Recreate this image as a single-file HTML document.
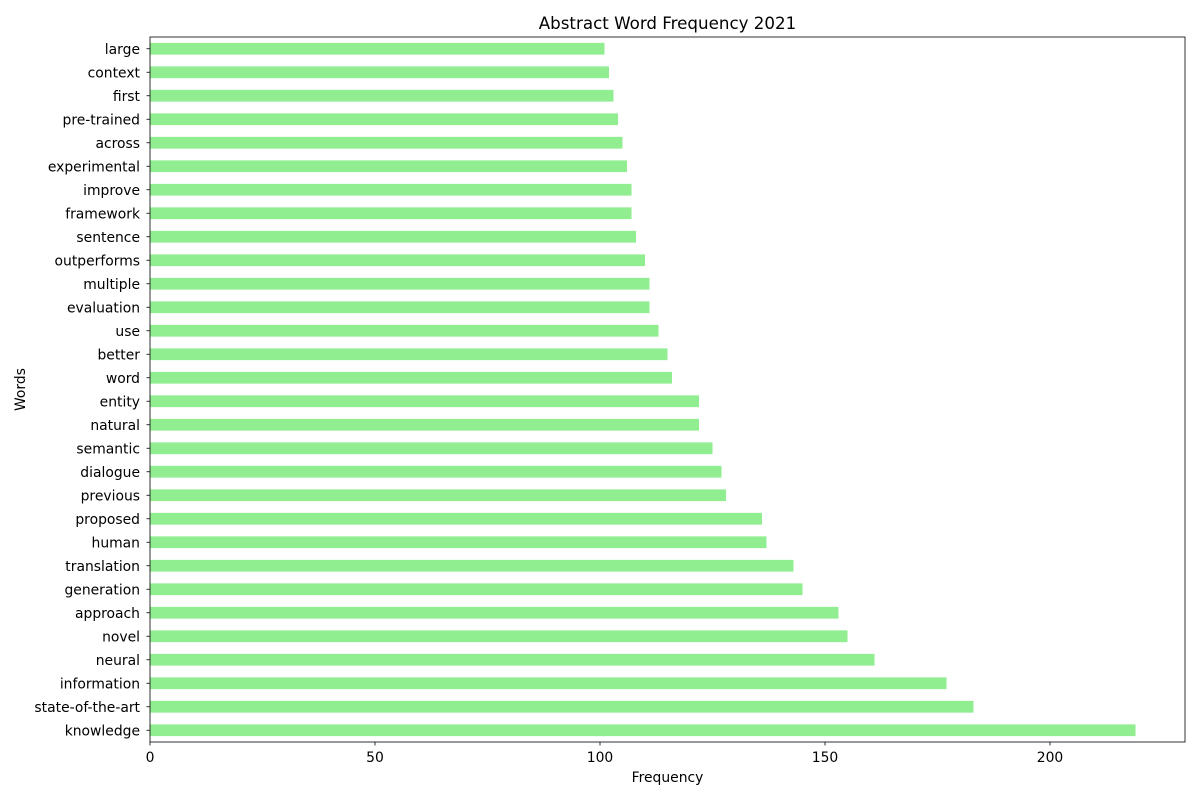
<!DOCTYPE html>
<html><head><meta charset="utf-8"><style>
body{margin:0;background:#fff;font-family:"Liberation Sans","DejaVu Sans",sans-serif;}
svg text{font-family:"DejaVu Sans","Liberation Sans",sans-serif;}
</style></head><body>
<svg id="chart" width="1200" height="800" xmlns="http://www.w3.org/2000/svg"></svg>
<script>
const categories=["knowledge","state-of-the-art","information","neural","novel","approach","generation","translation","human","proposed","previous","dialogue","semantic","natural","entity","word","better","use","evaluation","multiple","outperforms","sentence","framework","improve","experimental","across","pre-trained","first","context","large"];
const values=[219,183,177,161,155,153,145,143,137,136,128,127,125,122,122,116,115,113,111,111,110,108,107,107,106,105,104,103,102,101];
const xTicks=[0,50,100,150,200];
const NS="http://www.w3.org/2000/svg";
const svg=document.getElementById('chart');
const L=150,R=1185,T=37,B=742;
const xMax=230;
const x=v=>L+v/xMax*(R-L);
const step=(B-T)/categories.length;
const y=i=>B-step*(i+0.5);
function mk(tag,attrs,parent){const e=document.createElementNS(NS,tag);for(const k in attrs)e.setAttribute(k,attrs[k]);(parent||svg).appendChild(e);return e;}
const bars=mk('g',{});


categories.forEach((c,i)=>{
  const r=mk('rect',{x:x(0),y:y(i)-step*0.25,width:x(values[i])-x(0),height:step*0.5,fill:'#90ee90'},bars);
  
  
  mk('line',{x1:L-3.5,x2:L,y1:y(i),y2:y(i),stroke:'#000','stroke-width':0.8});
  const t=mk('text',{x:L-10,y:y(i)+5,'text-anchor':'end','font-size':13.9});
  t.textContent=c;
  
  
});
xTicks.forEach(v=>{
  mk('line',{x1:x(v),x2:x(v),y1:B,y2:B+3.5,stroke:'#000','stroke-width':0.8});
  const t=mk('text',{x:x(v),y:B+20,'text-anchor':'middle','font-size':13.9});
  t.textContent=v;
  
  
});
const frame=mk('rect',{x:L,y:T,width:R-L,height:B-T,fill:'none',stroke:'#000','stroke-width':0.8});


let t=mk('text',{x:(L+R)/2,y:29,'text-anchor':'middle','font-size':16.7});t.textContent='Abstract Word Frequency 2021';


t=mk('text',{x:(L+R)/2,y:782,'text-anchor':'middle','font-size':13.9});t.textContent='Frequency';


t=mk('text',{x:25,y:(T+B)/2,'text-anchor':'middle','font-size':13.9,transform:`rotate(-90 25 ${(T+B)/2})`});t.textContent='Words';


</script>
</body></html>
